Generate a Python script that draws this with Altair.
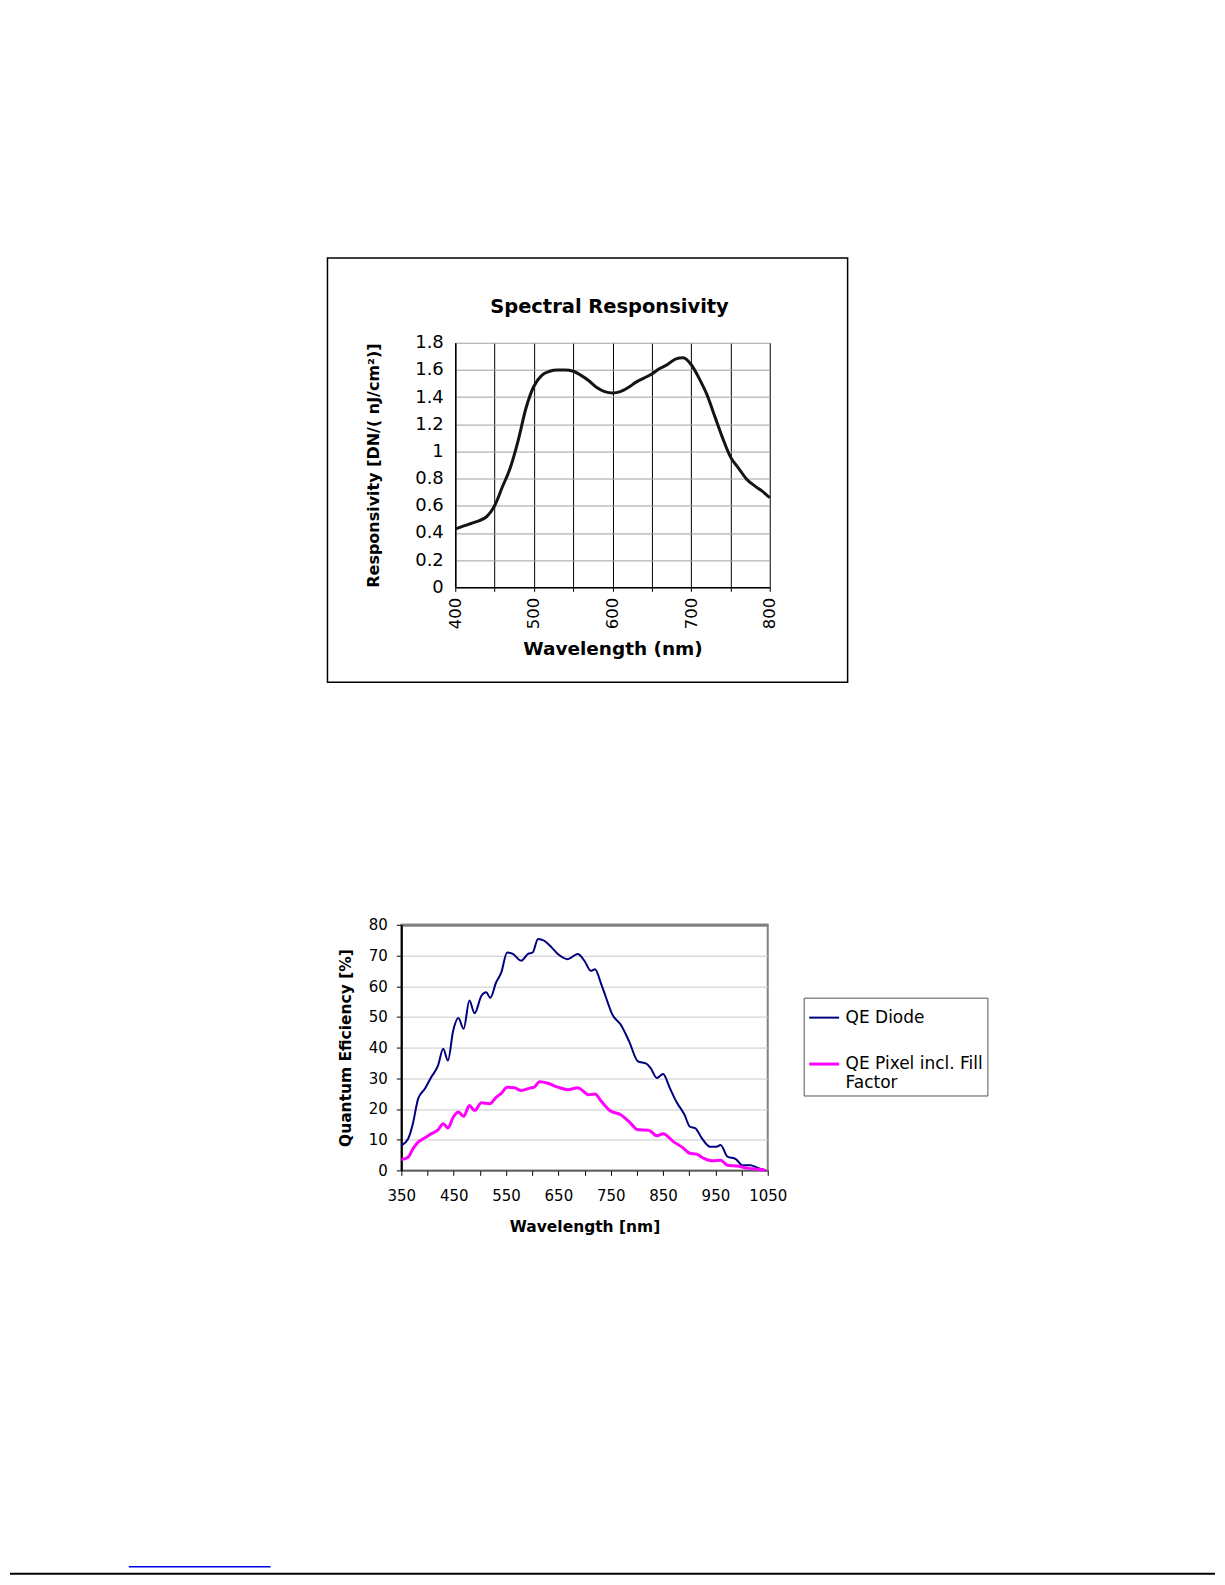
import altair as alt
import pandas as pd

# ---- Top chart: Spectral Responsivity ----
resp_wl = [400, 410, 420, 430, 440, 450, 460, 470, 480, 490, 500, 510, 520, 530, 540,
           550, 560, 570, 580, 590, 600, 610, 620, 630, 640, 650, 660, 670, 680, 690,
           700, 710, 720, 730, 740, 750, 760, 770, 780, 790, 800]
resp_val = [0.43, 0.45, 0.47, 0.49, 0.52, 0.60, 0.74, 0.88, 1.08, 1.32, 1.48, 1.56, 1.59, 1.60, 1.60,
            1.59, 1.56, 1.52, 1.47, 1.44, 1.43, 1.44, 1.47, 1.51, 1.54, 1.57, 1.61, 1.64, 1.68, 1.69,
            1.64, 1.54, 1.42, 1.26, 1.10, 0.96, 0.88, 0.80, 0.75, 0.71, 0.66]
resp_x_ticks = [400, 450, 500, 550, 600, 650, 700, 750, 800]
resp_y_ticks = [0, 0.2, 0.4, 0.6, 0.8, 1.0, 1.2, 1.4, 1.6, 1.8]

# ---- Bottom chart: Quantum Efficiency ----
diode_wl = [350, 363, 372, 382, 395, 407, 420, 430, 439, 449, 459, 469, 480, 490, 503, 512, 520,
            531, 541, 552, 563, 579, 592, 601, 611, 623, 635, 649, 668, 687, 700, 712, 720, 732,
            740, 753, 769, 785, 802, 818, 826, 838, 850, 863, 875, 891, 901, 912, 924, 940, 952,
            960, 973, 989, 1001, 1017, 1030, 1046]
diode_val = [8.1, 10.3, 15.2, 23.3, 26.6, 30.3, 34.1, 39.6, 35.8, 45.5, 49.6, 46.1, 55.3, 51.2, 56.9, 58.0, 56.2,
             61.2, 64.5, 71.0, 70.5, 68.3, 70.5, 71.0, 75.4, 74.8, 73.0, 70.5, 68.8, 70.5, 68.2, 65.0, 65.5, 60.6,
             56.8, 50.8, 47.5, 42.1, 35.5, 34.8, 33.4, 30.1, 31.4, 26.8, 22.5, 18.1, 14.3, 13.7, 10.5, 7.7, 7.7,
             8.3, 4.5, 3.7, 1.7, 1.7, 0.9, 0.0]
pixel_wl = [350, 363, 372, 382, 395, 407, 420, 430, 439, 449, 459, 469, 480, 490, 503, 519, 531,
            541, 552, 566, 579, 595, 604, 614, 630, 649, 668, 687, 692, 708, 720, 732, 749, 769,
            785, 802, 822, 838, 850, 871, 887, 901, 914, 928, 944, 960, 973, 993, 1013, 1030, 1046]
pixel_val = [3.5, 4.3, 7.0, 9.2, 10.6, 11.9, 13.2, 15.2, 13.8, 17.3, 19.0, 17.6, 21.1, 19.5, 22.0, 21.7, 23.8,
             25.1, 27.1, 26.9, 26.0, 26.8, 27.1, 28.9, 28.4, 27.1, 26.3, 26.9, 26.5, 24.6, 24.9, 22.5, 19.4, 18.1,
             15.9, 13.2, 13.1, 11.3, 11.9, 9.2, 7.5, 5.6, 5.3, 3.9, 3.1, 3.3, 1.7, 1.4, 0.65, 0.4, 0.0]
series_names = ["QE Diode", "QE Pixel incl. Fill Factor"]
series_colors = ["#000080", "#ff00ff"]
qe_x_ticks = [350, 400, 450, 500, 550, 600, 650, 700, 750, 800, 850, 900, 950, 1000, 1050]
qe_y_ticks = [0, 10, 20, 30, 40, 50, 60, 70, 80]

FONT = "DejaVu Sans"
one = pd.DataFrame({"k": [0]})

# Top chart shares its left origin with the bottom chart; its plot area is the
# scale range [54, 369] inside a 369 px wide view.
top_df = pd.DataFrame({"wl": resp_wl, "r": resp_val})
top_line = alt.Chart(top_df).mark_line(color="#141414", strokeWidth=3, interpolate="monotone").encode(
    x=alt.X("wl:Q", scale=alt.Scale(domain=[400, 800], range=[54, 369], nice=False),
            axis=alt.Axis(values=resp_x_ticks, labelExpr="datum.value % 100 == 0 ? datum.label : ''",
                          labelOverlap=False, labelFlush=False,
                          grid=True, gridColor="#000000", gridWidth=1, gridOpacity=1,
                          domainColor="#000000", domainWidth=1.5, tickColor="#000000", tickSize=4,
                          labelAngle=270, labelAlign="right", labelBaseline="middle", labelPadding=6,
                          labelFont=FONT, labelFontSize=16.5, labelColor="#000000",
                          titleFont=FONT, titleFontSize=18.5, titleFontWeight="bold", titleColor="#000000",
                          titlePadding=11),
            title="Wavelength (nm)"),
    y=alt.Y("r:Q", scale=alt.Scale(domain=[0, 1.8], nice=False),
            axis=alt.Axis(values=resp_y_ticks, format="~g", labelOverlap=False, labelFlush=False,
                          grid=True, gridColor="#a0a0a0", gridWidth=1, offset=-54,
                          gridOpacity=1, domainColor="#000000", domainWidth=1.5, ticks=False,
                          labelPadding=12, labelFont=FONT, labelFontSize=18, labelColor="#000000",
                          titleFont=FONT, titleFontSize=16, titleFontWeight="bold", titleColor="#000000",
                          titlePadding=33),
            title="Responsivity [DN/( nJ/cm²)]"),
)
top_frame = alt.Chart(one).mark_rect(fillOpacity=0, stroke="#000000", strokeWidth=1.5).encode(
    x=alt.value(-74), x2=alt.value(447), y=alt.value(-85), y2=alt.value(340))

top = alt.layer(top_frame, top_line).properties(
    width=369, height=245,
    title=alt.TitleParams("Spectral Responsivity", font=FONT, fontSize=19.5, fontWeight="bold",
                          color="#000000", anchor="middle", frame="group", baseline="alphabetic",
                          offset=0, dx=24, dy=75),
    view=alt.ViewBackground(strokeWidth=0),
)

qe_df = pd.concat([
    pd.DataFrame({"wl": diode_wl, "qe": diode_val, "series": series_names[0]}),
    pd.DataFrame({"wl": pixel_wl, "qe": pixel_val, "series": series_names[1]}),
])
bottom_line = alt.Chart(qe_df).mark_line(interpolate="monotone").encode(
    x=alt.X("wl:Q", scale=alt.Scale(domain=[350, 1050], nice=False),
            axis=alt.Axis(values=qe_x_ticks, format="d",
                          labelExpr="(datum.value - 350) % 100 == 0 ? datum.label : ''",
                          labelOverlap=False, labelFlush=False,
                          grid=False, domainColor="#404040", domainWidth=1.5, tickColor="#000000",
                          tickSize=5, labelPadding=13, labelFont=FONT, labelFontSize=15,
                          labelColor="#000000", titleFont=FONT, titleFontSize=15.5,
                          titleFontWeight="bold", titleColor="#000000", titlePadding=16),
            title="Wavelength [nm]"),
    y=alt.Y("qe:Q", scale=alt.Scale(domain=[0, 80], nice=False),
            axis=alt.Axis(values=qe_y_ticks, labelOverlap=False, labelFlush=False, grid=True,
                          gridColor={"condition": {"test": "datum.value === 80", "value": "#808080"},
                                     "value": "#c8c8c8"},
                          gridWidth={"condition": {"test": "datum.value === 80", "value": 3}, "value": 1},
                          domainColor="#000000", domainWidth=2, tickColor="#000000", tickSize=5,
                          labelPadding=9, labelFont=FONT, labelFontSize=15, labelColor="#000000",
                          titleFont=FONT, titleFontSize=15.5, titleFontWeight="bold", titleColor="#000000",
                          titlePadding=15),
            title="Quantum Eficiency [%]"),
    color=alt.Color("series:N", scale=alt.Scale(domain=series_names, range=series_colors),
                    legend=alt.Legend(title=None, orient="none", legendX=403, legendY=73,
                                      strokeColor="#555555", fillColor="white", padding=4,
                                      symbolType="stroke", symbolSize=900, symbolStrokeWidth=2.5,
                                      labelFont=FONT, labelFontSize=17, labelColor="#000000",
                                      labelOffset=5, rowPadding=22, labelBaseline="middle",
                                      labelExpr="datum.label == 'QE Pixel incl. Fill Factor' ? ['QE Pixel incl. Fill', 'Factor'] : datum.label")),
    strokeWidth=alt.StrokeWidth("series:N", scale=alt.Scale(domain=series_names, range=[2, 3]), legend=None),
)
bottom_spacer = alt.Chart(one).mark_rule(color="white", strokeWidth=2).encode(
    x=alt.value(0), x2=alt.value(1), y=alt.value(-20))
footer_link = alt.Chart(one).mark_rule(color="#0000e6", strokeWidth=1.5).encode(
    x=alt.value(-273), x2=alt.value(-131), y=alt.value(643))
footer_rule = alt.Chart(one).mark_rule(color="#000000", strokeWidth=2).encode(
    x=alt.value(-392), x2=alt.value(815), y=alt.value(650))

bottom = alt.layer(bottom_line, bottom_spacer, footer_link, footer_rule).properties(
    width=367, height=246,
    view=alt.ViewBackground(stroke="#808080", strokeWidth=2),
)

chart = alt.vconcat(top, bottom, spacing=220).properties(
    padding={"left": 0, "top": 248, "right": 0, "bottom": 0},
    background="white",
).resolve_legend(color="independent").resolve_scale(color="independent", strokeWidth="independent").configure(font=FONT)

chart.save("out.html", embed_options={"renderer": "svg", "actions": False})
